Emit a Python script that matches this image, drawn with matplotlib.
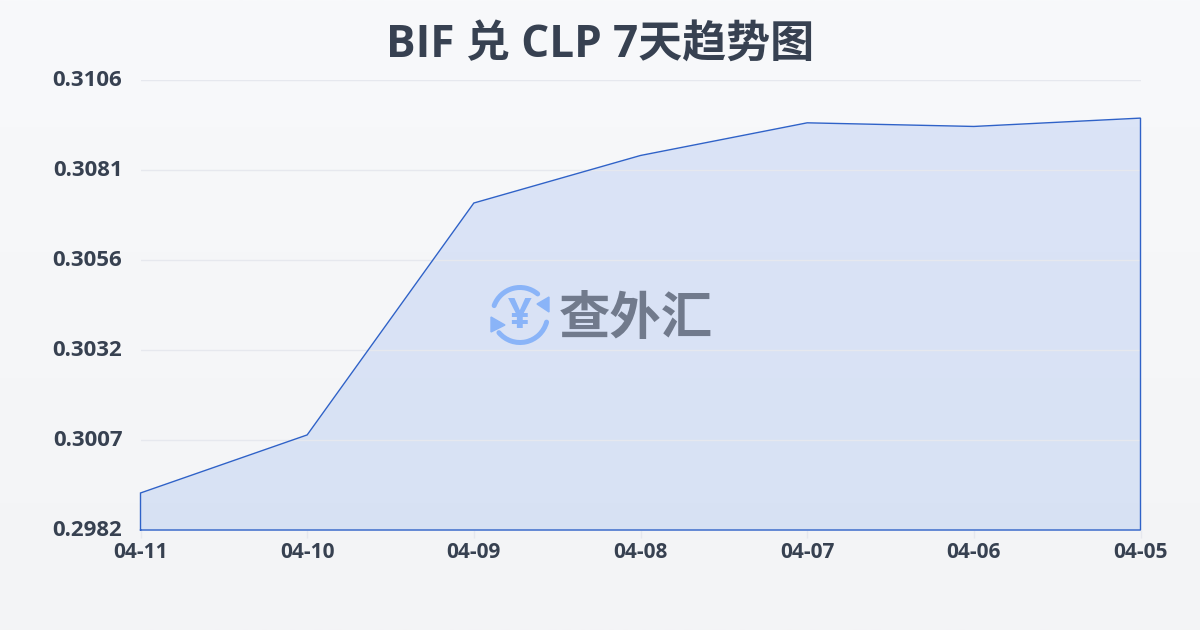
import matplotlib
matplotlib.use("Agg")
import matplotlib.pyplot as plt
from matplotlib.patches import Arc, Polygon
from matplotlib.transforms import ScaledTranslation
import numpy as np

plt.rcParams['font.family'] = ['Open Sans', 'Noto Sans CJK SC', 'DejaVu Sans']

dates = ["04-11", "04-10", "04-09", "04-08", "04-07", "04-06", "04-05"]
rates = [0.29922, 0.30082, 0.30721, 0.30852, 0.30942, 0.30932, 0.30955]
y_labels = ["0.2982", "0.3007", "0.3032", "0.3056", "0.3081", "0.3106"]
y_min = 0.2982
y_max = 0.3106

W, H = 1200, 630
fig = plt.figure(figsize=(W / 100, H / 100), dpi=100)

# page background, faint vertical gradient
bg = fig.add_axes([0, 0, 1, 1], zorder=0)
bg.imshow(np.linspace(0, 1, 256).reshape(-1, 1), aspect="auto", extent=[0, 1, 0, 1],
          cmap=matplotlib.colors.LinearSegmentedColormap.from_list("bg", ["#f8f9fb", "#f3f4f6"]))
bg.axis("off")

ax = fig.add_axes([140.5 / W, 1 - 530 / H, 1000 / W, 450 / H], zorder=1)
ax.patch.set_alpha(0)
x = np.arange(len(dates))
ax.fill_between(x, rates, y_min, color="#3b76e8", alpha=0.15, linewidth=0, zorder=2)
ax.plot(np.r_[x[0], x, x[-1], x[0]], np.r_[y_min, rates, y_min, y_min],
        color="#2f62c8", linewidth=1, solid_joinstyle="miter", zorder=3, clip_on=False)

ax.set_xlim(0, len(dates) - 1)
ax.set_ylim(y_min, y_max)
ax.set_xticks(x, dates)
# ticks are evenly spaced in the source, the labels are rounded
ax.set_yticks(np.linspace(y_min, y_max, 6), y_labels)
ax.grid(axis="y", color="#e6e8ee", linewidth=1)
ax.set_axisbelow(False)
for s in ax.spines.values():
    s.set_visible(False)
ax.tick_params(axis="y", length=0, pad=13, labelsize=16, labelcolor="#374151")
ax.tick_params(axis="x", length=6, width=1, color="#e6e8ee", pad=3, labelsize=15, labelcolor="#374151")
for lab in ax.get_xticklabels() + ax.get_yticklabels():
    lab.set_fontweight("bold")
# y labels sit 2px above their gridlines
shift = ScaledTranslation(0, 2 / 100, fig.dpi_scale_trans)
for lab in ax.get_yticklabels():
    lab.set_transform(lab.get_transform() + shift)

fig.text(0.5, 1 - 45 / H, "BIF 兑 CLP 7天趋势图", ha="center", va="center",
         fontsize=31.7, fontweight="bold", color="#374151")

# watermark logo
logo = fig.add_axes([0, 0, 1, 1], zorder=4)
logo.set_xlim(0, W)
logo.set_ylim(H, 0)
logo.axis("off")
blue = "#8ab4f8"
logo.add_patch(Arc((520, 315), 55, 55, theta1=200, theta2=310, color=blue, lw=3.6, capstyle="round"))
logo.add_patch(Arc((520, 315), 55, 55, theta1=15, theta2=140, color=blue, lw=3.6, capstyle="round"))
logo.add_patch(Polygon([[549, 297], [549, 312], [537, 304]], color=blue))
logo.add_patch(Polygon([[491, 317], [505, 325], [491, 332]], color=blue))
logo.text(520, 317, "¥", ha="center", va="center", fontsize=30, fontweight="bold", color=blue)
logo.text(636, 321, "查外汇", ha="center", va="center", fontsize=37, fontweight="bold", color="#717a8c")

fig.savefig("out.png", dpi=100)
